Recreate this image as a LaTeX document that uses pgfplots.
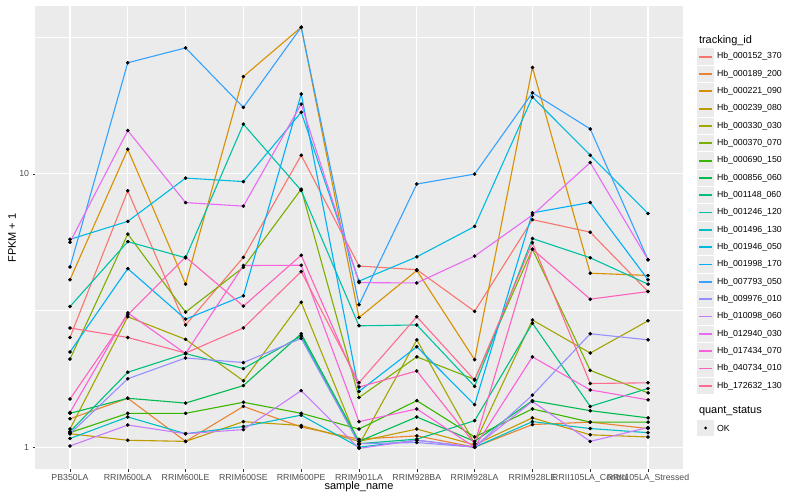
\documentclass[border=0pt]{standalone}
\usepackage{pgfplots}
\pgfplotsset{compat=1.18}
\usepackage{pgfplotstable}
\usepackage{fontspec}
\setmainfont{Liberation Sans}

\definecolor{gray92}{HTML}{EBEBEB}
\definecolor{gray30}{HTML}{4D4D4D}
\definecolor{gray20}{HTML}{333333}
\definecolor{c1}{HTML}{F8766D}
\definecolor{c2}{HTML}{EA8331}
\definecolor{c3}{HTML}{D89000}
\definecolor{c4}{HTML}{C09B00}
\definecolor{c5}{HTML}{A3A500}
\definecolor{c6}{HTML}{7CAE00}
\definecolor{c7}{HTML}{39B600}
\definecolor{c8}{HTML}{00BB4E}
\definecolor{c9}{HTML}{00BF7D}
\definecolor{c10}{HTML}{00C1A3}
\definecolor{c11}{HTML}{00BFC4}
\definecolor{c12}{HTML}{00BAE0}
\definecolor{c13}{HTML}{00B0F6}
\definecolor{c14}{HTML}{35A2FF}
\definecolor{c15}{HTML}{9590FF}
\definecolor{c16}{HTML}{C77CFF}
\definecolor{c17}{HTML}{E76BF3}
\definecolor{c18}{HTML}{FA62DB}
\definecolor{c19}{HTML}{FF62BC}
\definecolor{c20}{HTML}{FF6C91}

% FPKM + 1, one row per sample, one column per tracking_id
\pgfplotstableread{
idx s1    s2    s3    s4    s5    s6    s7    s8    s9    s10   s11   s12   s13   s14   s15   s16   s17   s18   s19   s20
0   2.52  1.27  4.10  1.12  1.165 2.10  1.13  1.33  1.14  3.27  1.076 5.76  2.23  4.56  1.12  1.01  5.62  1.34  1.50  2.73
1   8.67  1.51  12.3  1.06  3.00  6.02  1.33  1.51  1.88  5.65  1.29  6.70  4.50  25.5  1.78  1.205 14.4  3.10  3.05  2.52
2   2.80  1.05  3.95  1.05  2.48  3.12  1.33  1.45  2.20  4.93  1.12  9.65  2.94  28.9  2.12  1.12  7.85  2.20  4.96  2.21
3   4.95  1.41  22.7  1.24  1.75  4.55  1.46  1.68  1.94  15.2  1.19  9.37  3.58  17.5  2.04  1.16  7.62  4.62  3.28  2.73
4   11.7  1.185 34.4  1.20  3.39  8.79  1.33  2.60  2.55  8.70  1.31  16.8  19.6  34.4  2.50  1.61  18.0  4.63  5.04  4.39
5   4.60  1.07  2.98  1.05  1.02  1.52  1.165 1.05  1.03  2.78  1.00  4.05  1.60  3.32  1.03  0.99  4.00  1.24  1.66  1.72
6   4.46  1.10  4.43  1.165 2.47  2.14  1.48  1.29  1.07  2.80  1.06  4.97  2.33  9.18  1.04  1.06  3.99  1.38  1.90  3.00
7   3.14  1.00  2.09  1.02  1.03  1.77  1.09  1.05  1.25  1.67  1.00  6.42  1.43  9.98  1.00  1.00  5.00  1.00  1.03  1.76
8   6.80  1.21  24.5  1.28  2.92  5.30  1.38  1.48  2.84  5.80  1.24  19.1  7.20  19.8  1.55  1.47  7.07  2.14  5.30  5.60
9   6.12  1.235 4.33  1.11  2.21  1.91  1.235 1.36  1.41  4.93  1.17  11.7  7.86  14.6  2.60  1.05  11.0  1.62  3.48  1.71
10  3.71  1.17  4.25  1.09  2.90  1.58  1.235 1.28  1.64  3.95  1.13  7.16  4.10  4.85  2.47  1.18  4.85  1.49  3.71  1.72
}\fpkm

\begin{document}
\begin{tikzpicture}[x=1bp,y=1bp]
\useasboundingbox (0,0) rectangle (800,500);
\begin{axis}[
  at={(35.3bp,30.7bp)}, anchor=south west,
  scale only axis, width=647.4bp, height=463.2bp,
  xmin=-0.6, xmax=10.6,
  ymode=log, ymin=0.83, ymax=41.1,
  xtick={0,...,10},
  xticklabels={PB350LA,RRIM600LA,RRIM600LE,RRIM600SE,RRIM600PE,RRIM901LA,RRIM928BA,RRIM928LA,RRIM928LE,RRII105LA\_Control,RRII105LA\_Stressed},
  ytick={1,10}, yticklabels={1,10},
  minor ytick={3.1623,31.623},
  xtick pos=bottom, ytick pos=left,
  tick align=outside,
  major tick length=2.75bp, minor tick length=0pt,
  tick style={color=gray20, line width=0.5bp},
  ticklabel style={font=\fontsize{8.8}{10}\selectfont, text=gray30},
  xticklabel style={yshift=1bp},
  axis line style={draw=none},
  axis background/.style={fill=gray92},
  xmajorgrids, ymajorgrids, yminorgrids,
  major grid style={white, line width=1.07bp},
  minor grid style={white, line width=0.53bp},
  clip=false,
]
\pgfplotsinvokeforeach{1,...,20}{
  \addplot[c#1, line width=1.1bp, mark=none] table[x=idx, y=s#1] {\fpkm};
}
\pgfplotsinvokeforeach{1,...,20}{
  \addplot[only marks, mark=*, mark size=1.6bp, black] table[x=idx, y=s#1] {\fpkm};
}
\end{axis}

% axis titles
\node[font=\fontsize{11}{13}\selectfont] at (359,13) {sample\_name};
\node[font=\fontsize{11}{13}\selectfont, rotate=90] at (12,262) {FPKM + 1};

% legend: tracking_id
\node[anchor=west, font=\fontsize{11}{13}\selectfont] at (695.5,459) {tracking\_id};
\foreach \n/\col [count=\i from 0] in {
  Hb\_000152\_370/c1, Hb\_000189\_200/c2, Hb\_000221\_090/c3, Hb\_000239\_080/c4,
  Hb\_000330\_030/c5, Hb\_000370\_070/c6, Hb\_000690\_150/c7, Hb\_000856\_060/c8,
  Hb\_001148\_060/c9, Hb\_001246\_120/c10, Hb\_001496\_130/c11, Hb\_001946\_050/c12,
  Hb\_001998\_170/c13, Hb\_007793\_050/c14, Hb\_009976\_010/c15, Hb\_010098\_060/c16,
  Hb\_012940\_030/c17, Hb\_017434\_070/c18, Hb\_040734\_010/c19, Hb\_172632\_130/c20} {
  \pgfmathsetmacro{\yy}{500-56.7-17.32*\i}
  \fill[gray92] (697.3,\yy-8.2) rectangle (713.9,\yy+8.2);
  \draw[\col, line width=1.8bp] (699,\yy) -- (712.2,\yy);
  \node[anchor=west, font=\fontsize{8.8}{10}\selectfont, inner sep=0pt] at (716.8,\yy) {\n};
}

% legend: quant_status
\node[anchor=west, font=\fontsize{11}{13}\selectfont] at (695.5,89) {quant\_status};
\fill[gray92] (697.3,63.8) rectangle (713.9,80.2);
\fill[black] (705.6,72) circle (1.6);
\node[anchor=west, font=\fontsize{8.8}{10}\selectfont, inner sep=0pt] at (716.8,72) {OK};
\end{tikzpicture}
\end{document}
